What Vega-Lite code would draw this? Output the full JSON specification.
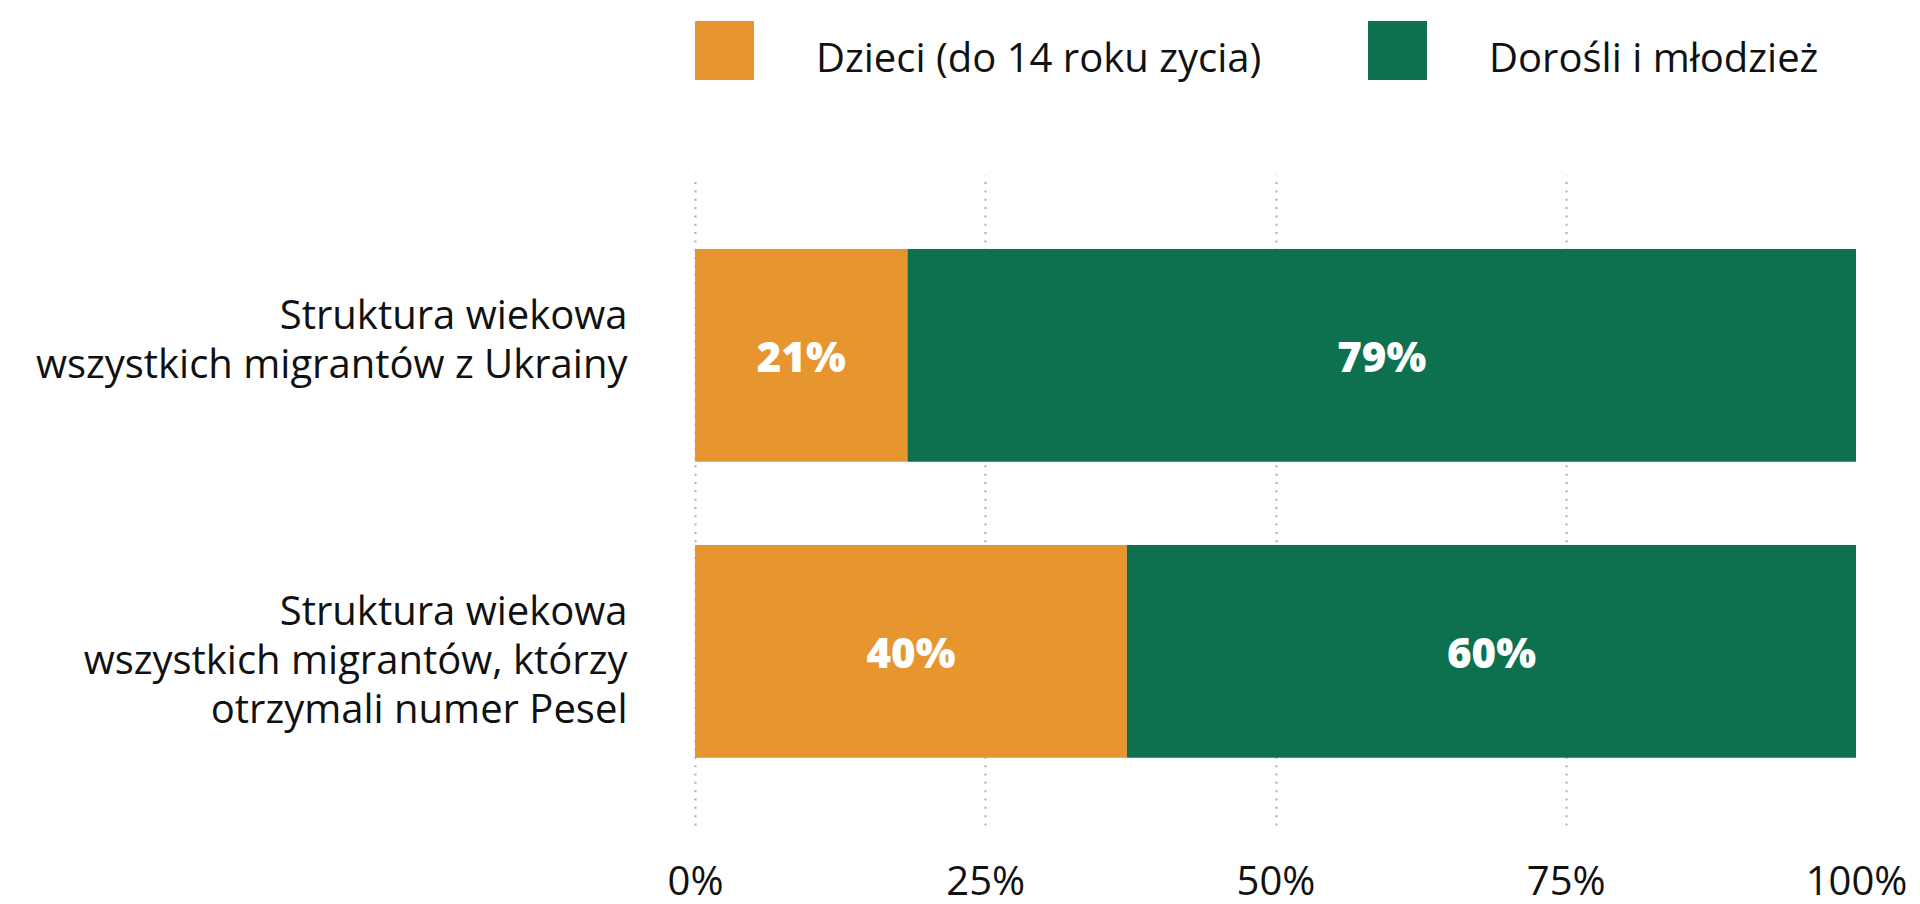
{
  "$schema": "https://vega.github.io/schema/vega-lite/v6.json",
  "width": 1161,
  "height": 650,
  "autosize": {"type": "none"},
  "padding": {"left": 695, "top": 175, "right": 64, "bottom": 79},
  "background": "white",
  "data": {
    "values": [
      {"group": "Struktura wiekowa|wszystkich migrantów z Ukrainy", "cat": "Dzieci (do 14 roku zycia)", "ord": 1, "value": 18.3, "label": "21%"},
      {"group": "Struktura wiekowa|wszystkich migrantów z Ukrainy", "cat": "Dorośli i młodzież", "ord": 2, "value": 81.7, "label": "79%"},
      {"group": "Struktura wiekowa|wszystkich migrantów, którzy|otrzymali numer Pesel", "cat": "Dzieci (do 14 roku zycia)", "ord": 1, "value": 37.2, "label": "40%"},
      {"group": "Struktura wiekowa|wszystkich migrantów, którzy|otrzymali numer Pesel", "cat": "Dorośli i młodzież", "ord": 2, "value": 62.8, "label": "60%"}
    ]
  },
  "transform": [
    {"stack": "value", "groupby": ["group"], "sort": [{"field": "ord", "order": "ascending"}], "as": ["x0", "x1"]},
    {"calculate": "(datum.x0 + datum.x1) / 2", "as": "mid"}
  ],
  "encoding": {
    "y": {
      "field": "group",
      "type": "nominal",
      "sort": null,
      "scale": {"paddingInner": 0.2814, "paddingOuter": 0.2387, "align": 0.524},
      "axis": {
        "title": null,
        "domain": false,
        "ticks": false,
        "tickSize": 0,
        "grid": false,
        "labelPadding": 68,
        "labelFont": "Open Sans",
        "labelFontSize": 40,
        "labelFontWeight": 400,
        "labelColor": "#111111",
        "labelLineHeight": 49,
        "labelBaseline": "alphabetic",
        "labelAlign": "right",
        "labelOffset": -26,
        "labelLimit": 0,
        "labelExpr": "split(datum.label, '|')"
      }
    }
  },
  "layer": [
    {
      "mark": {"type": "bar"},
      "encoding": {
        "x": {
          "field": "x0",
          "type": "quantitative",
          "scale": {"domain": [0, 100], "nice": false, "zero": true},
          "axis": {
            "title": null,
            "orient": "bottom",
            "values": [0, 25, 50, 75, 100],
            "labelExpr": "datum.value + '%'",
            "domain": false,
            "ticks": false,
            "tickSize": 0,
            "labelPadding": 69,
            "labelBaseline": "alphabetic",
            "labelFlush": false,
            "labelOverlap": false,
            "labelBound": false,
            "labelFont": "Open Sans",
            "labelFontSize": 40,
            "labelColor": "#111111",
            "grid": true,
            "gridDash": [2, 6.33],
            "gridWidth": 2,
            "gridColor": {"condition": {"test": "datum.value === 100", "value": "transparent"}, "value": "#adadad"}
          }
        },
        "x2": {"field": "x1"},
        "color": {
          "field": "cat",
          "type": "nominal",
          "scale": {"domain": ["Dzieci (do 14 roku zycia)", "Dorośli i młodzież"], "range": ["#E7952F", "#0D7150"]},
          "legend": {
            "title": null,
            "orient": "none",
            "legendX": 0,
            "legendY": -154,
            "direction": "horizontal",
            "padding": 0,
            "symbolType": "square",
            "symbolSize": 3481,
            "symbolStrokeWidth": 0,
            "labelFont": "Open Sans",
            "labelFontSize": 40,
            "labelColor": "#111111",
            "labelOffset": 62,
            "labelLimit": 0,
            "labelBaseline": "middle",
            "columnPadding": 106,
            "encode": {"labels": {"update": {"dy": {"value": 9}}}}
          }
        }
      }
    },
    {
      "mark": {"type": "text", "color": "white", "font": "Open Sans", "fontWeight": 800, "fontSize": 42, "baseline": "middle", "align": "center", "dy": 4},
      "encoding": {
        "x": {"field": "mid", "type": "quantitative"},
        "text": {"field": "label", "type": "nominal"}
      }
    }
  ],
  "config": {"view": {"stroke": null}}
}
